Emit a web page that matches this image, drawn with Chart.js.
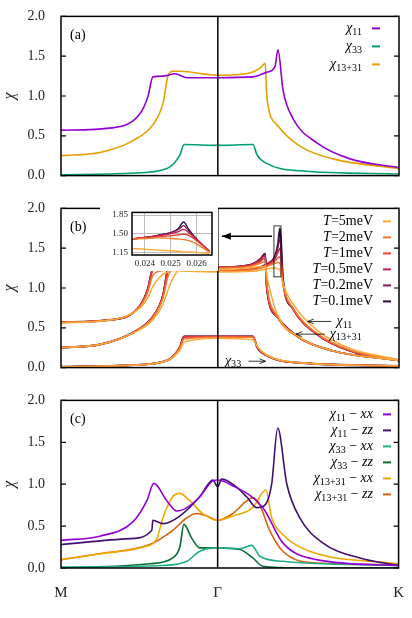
<!DOCTYPE html>
<html>
<head>
<meta charset="utf-8">
<script src="https://cdn.jsdelivr.net/npm/chart.js@4.4.1/dist/chart.umd.min.js"></script>
<style>
  body { margin: 0; background: #fff; }
  .panel { position: absolute; left: 0; width: 412px; }
  #inset { position: absolute; left: 100px; top: 203px; width: 118px; height: 68px; background: #fff; }
</style>
</head>
<body>
<div class="panel" style="top:0;height:192px"><canvas id="chartA"></canvas></div>
<div class="panel" style="top:192px;height:192px"><canvas id="chartB"></canvas></div>
<div class="panel" style="top:384px;height:234px"><canvas id="chartC"></canvas></div>
<div id="inset"><canvas id="chartInset"></canvas></div>
<script>
// path coordinate: M = 0, Gamma = 0.464, K = 1
const GAMMA = 0.464;
const pathTicks = [0, GAMMA, 1];
const pathLabels = ['M', 'Γ', 'K'];
const yTicks = [0, 0.5, 1.0, 1.5, 2.0];

// Panel (a)
const a11X = [0, 0.15, 0.234, 0.257, 0.272, 0.302, 0.337, 0.373, 0.464, 0.568, 0.609, 0.633, 0.642, 0.657, 0.686, 0.757, 0.855, 1.0];
const a11Y = [0.57, 0.60, 0.78, 0.99, 1.24, 1.25, 1.28, 1.23, 1.23, 1.24, 1.30, 1.37, 1.58, 1.07, 0.72, 0.41, 0.21, 0.10];
const a33X = [0, 0.204, 0.314, 0.352, 0.364, 0.464, 0.568, 0.580, 0.609, 0.707, 1.0];
const a33Y = [0.01, 0.03, 0.09, 0.26, 0.39, 0.38, 0.39, 0.26, 0.15, 0.06, 0.02];
const a13X = [0, 0.115, 0.213, 0.272, 0.302, 0.317, 0.331, 0.352, 0.464, 0.559, 0.589, 0.604, 0.609, 0.639, 0.707, 0.805, 1.0];
const a13Y = [0.25, 0.29, 0.44, 0.64, 0.91, 1.26, 1.31, 1.31, 1.26, 1.29, 1.35, 1.41, 0.99, 0.64, 0.37, 0.21, 0.09];

// Panel (b): temperatures
const temps = ['5', '2', '1', '0.5', '0.2', '0.1'];
const tempColors = ['#f9a93a', '#f27a2c', '#e8433a', '#c0204c', '#781a5c', '#2d0b3a'];
const b11X = [0, 0.15, 0.234, 0.257, 0.272, 0.302, 0.337, 0.373, 0.464, 0.568, 0.609, 0.633, 0.642, 0.648, 0.657, 0.686, 0.757, 0.855, 1.0];
const b11_T5 = [0.56, 0.60, 0.75, 0.88, 1.02, 1.17, 1.22, 1.21, 1.20, 1.21, 1.24, 1.25, 1.24, 1.22, 1.05, 0.80, 0.47, 0.24, 0.10];
const b11_T2 = [0.57, 0.60, 0.77, 0.95, 1.16, 1.22, 1.26, 1.22, 1.21, 1.23, 1.27, 1.31, 1.32, 1.31, 1.03, 0.75, 0.43, 0.22, 0.09];
const b11_T1 = [0.57, 0.60, 0.78, 0.98, 1.22, 1.24, 1.27, 1.23, 1.22, 1.24, 1.28, 1.34, 1.38, 1.39, 1.05, 0.74, 0.42, 0.21, 0.09];
const b11_T05 = [0.57, 0.60, 0.78, 0.99, 1.24, 1.25, 1.28, 1.23, 1.22, 1.24, 1.29, 1.37, 1.45, 1.50, 1.06, 0.74, 0.42, 0.21, 0.09];
const b11_T02 = [0.57, 0.60, 0.78, 0.99, 1.24, 1.25, 1.28, 1.23, 1.22, 1.24, 1.30, 1.39, 1.52, 1.62, 1.08, 0.74, 0.42, 0.21, 0.09];
const b11_T01 = [0.57, 0.60, 0.78, 0.99, 1.24, 1.25, 1.28, 1.23, 1.22, 1.24, 1.30, 1.40, 1.55, 1.75, 1.10, 0.74, 0.42, 0.21, 0.09];
const b13X = [0, 0.115, 0.213, 0.272, 0.302, 0.317, 0.331, 0.352, 0.464, 0.559, 0.589, 0.604, 0.609, 0.639, 0.707, 0.805, 1.0];
const b13_T5 = [0.25, 0.29, 0.43, 0.60, 0.80, 0.98, 1.12, 1.24, 1.23, 1.25, 1.27, 1.27, 1.15, 0.68, 0.38, 0.21, 0.09];
const b13_T2 = [0.25, 0.29, 0.44, 0.63, 0.88, 1.15, 1.25, 1.29, 1.25, 1.27, 1.31, 1.33, 1.05, 0.65, 0.37, 0.21, 0.09];
const b13_T1 = [0.25, 0.29, 0.44, 0.64, 0.90, 1.22, 1.29, 1.30, 1.26, 1.28, 1.33, 1.38, 1.02, 0.64, 0.37, 0.21, 0.09];
const b13_T05 = [0.25, 0.29, 0.44, 0.64, 0.91, 1.25, 1.31, 1.31, 1.26, 1.29, 1.35, 1.41, 1.00, 0.64, 0.37, 0.21, 0.09];
const b13_T02 = [0.25, 0.29, 0.44, 0.64, 0.91, 1.26, 1.31, 1.31, 1.26, 1.29, 1.35, 1.42, 1.00, 0.64, 0.37, 0.21, 0.09];
const b13_T01 = [0.25, 0.29, 0.44, 0.64, 0.91, 1.26, 1.32, 1.31, 1.26, 1.29, 1.36, 1.43, 1.00, 0.64, 0.37, 0.21, 0.09];
const b33X = [0, 0.204, 0.314, 0.352, 0.364, 0.464, 0.568, 0.580, 0.609, 0.707, 1.0];
const b33_T5 = [0.01, 0.03, 0.09, 0.22, 0.32, 0.37, 0.35, 0.27, 0.16, 0.06, 0.02];
const b33_T2 = [0.01, 0.03, 0.09, 0.25, 0.36, 0.38, 0.38, 0.27, 0.15, 0.06, 0.02];
const b33_T1 = [0.01, 0.03, 0.09, 0.26, 0.38, 0.39, 0.39, 0.26, 0.15, 0.06, 0.02];
const b33_T05 = [0.01, 0.03, 0.09, 0.26, 0.39, 0.39, 0.39, 0.26, 0.15, 0.06, 0.02];
const b33_T02 = [0.01, 0.03, 0.09, 0.26, 0.39, 0.39, 0.39, 0.26, 0.15, 0.06, 0.02];
const b33_T01 = [0.01, 0.03, 0.09, 0.26, 0.39, 0.39, 0.39, 0.26, 0.15, 0.06, 0.02];

// Inset of panel (b)
const insetX = [0.0235, 0.024, 0.0245, 0.025, 0.0253, 0.0255, 0.0257, 0.026, 0.0265];
const inset_T5 = [1.22, 1.21, 1.19, 1.18, 1.17, 1.16, 1.16, 1.15, 1.13];
const inset_T2 = [1.40, 1.41, 1.42, 1.41, 1.40, 1.39, 1.37, 1.31, 1.15];
const inset_T1 = [1.40, 1.42, 1.44, 1.46, 1.48, 1.49, 1.47, 1.37, 1.17];
const inset_T05 = [1.40, 1.43, 1.46, 1.50, 1.54, 1.58, 1.52, 1.39, 1.17];
const inset_T02 = [1.40, 1.43, 1.47, 1.52, 1.58, 1.65, 1.55, 1.40, 1.17];
const inset_T01 = [1.40, 1.43, 1.47, 1.52, 1.60, 1.72, 1.58, 1.40, 1.17];

// Panel (c)
const c11xxX = [0, 0.115, 0.213, 0.254, 0.275, 0.314, 0.343, 0.373, 0.411, 0.450, 0.464, 0.500, 0.598, 0.657, 0.757, 1.0];
const c11xxY = [0.33, 0.38, 0.55, 0.80, 1.01, 0.80, 0.68, 0.72, 0.85, 1.04, 1.05, 1.00, 0.72, 0.30, 0.10, 0.03];
const c11zzX = [0, 0.204, 0.269, 0.272, 0.302, 0.352, 0.411, 0.450, 0.464, 0.476, 0.509, 0.550, 0.580, 0.604, 0.624, 0.642, 0.669, 0.707, 0.775, 0.885, 1.0];
const c11zzY = [0.28, 0.35, 0.45, 0.57, 0.53, 0.62, 0.85, 1.05, 0.97, 1.06, 1.00, 0.85, 0.72, 0.75, 1.00, 1.67, 1.00, 0.60, 0.30, 0.12, 0.03];
const c33xxX = [0, 0.302, 0.373, 0.411, 0.464, 0.530, 0.565, 0.589, 0.657, 1.0];
const c33xxY = [0.01, 0.03, 0.08, 0.20, 0.24, 0.23, 0.27, 0.14, 0.08, 0.03];
const c33zzX = [0, 0.263, 0.331, 0.352, 0.364, 0.388, 0.411, 0.464, 0.530, 0.568, 0.598, 0.70, 1.0];
const c33zzY = [0.0, 0.05, 0.12, 0.25, 0.52, 0.35, 0.24, 0.24, 0.22, 0.12, 0.02, 0.0, 0.0];
const c13xxX = [0, 0.115, 0.243, 0.284, 0.302, 0.331, 0.352, 0.382, 0.420, 0.464, 0.509, 0.568, 0.607, 0.624, 0.657, 0.737, 1.0];
const c13xxY = [0.10, 0.17, 0.25, 0.35, 0.60, 0.85, 0.89, 0.80, 0.65, 0.57, 0.62, 0.72, 0.93, 0.60, 0.40, 0.20, 0.05];
const c13zzX = [0, 0.115, 0.263, 0.331, 0.373, 0.402, 0.432, 0.464, 0.509, 0.550, 0.568, 0.589, 0.618, 0.657, 0.757, 1.0];
const c13zzY = [0.10, 0.17, 0.28, 0.45, 0.60, 0.65, 0.62, 0.57, 0.65, 0.80, 0.84, 0.75, 0.45, 0.20, 0.06, 0.04];

const SERIF = '"Liberation Serif", "DejaVu Serif", serif';

function pts(xs, ys) {
    return xs.map((x, i) => ({ x: x, y: ys[i] }));
}

function line(xs, ys, color, width) {
    return {
        data: pts(xs, ys),
        borderColor: color,
        borderWidth: width || 1.6,
        pointRadius: 0,
        showLine: true,
        fill: false,
        cubicInterpolationMode: 'monotone'
    };
}

// draw text made of segments {t, it, sub}; align right at x, or left
function richText(ctx, segs, x, y, size, alignRight) {
    const parts = segs.map(s => {
        const fs = s.sub ? size * 0.72 : size;
        const font = (s.it ? 'italic ' : '') + fs + 'px ' + SERIF;
        ctx.font = font;
        return { s: s, font: font, w: ctx.measureText(s.t).width };
    });
    const total = parts.reduce((a, p) => a + p.w, 0);
    let cx = alignRight ? x - total : x;
    ctx.textBaseline = 'middle';
    ctx.textAlign = 'left';
    parts.forEach(p => {
        ctx.font = p.font;
        ctx.fillText(p.s.t, cx, p.s.sub ? y + size * 0.25 : y);
        cx += p.w;
    });
}

function chi(sub) {
    return [{ t: 'χ', it: true }, { t: sub, sub: true }];
}

const decor = {
    id: 'decor',
    afterDatasetsDraw(chart, args, opts) {
        const ctx = chart.ctx;
        const area = chart.chartArea;
        const xs = chart.scales.x, ys = chart.scales.y;
        ctx.save();
        ctx.strokeStyle = '#000';
        ctx.fillStyle = '#000';
        // Gamma line
        if (opts.gamma) {
            const gx = xs.getPixelForValue(GAMMA);
            ctx.lineWidth = 1.5;
            ctx.beginPath();
            ctx.moveTo(gx, area.top);
            ctx.lineTo(gx, area.bottom);
            ctx.stroke();
        }
        // inward ticks
        ctx.lineWidth = 1.2;
        (opts.yt || []).forEach(v => {
            const py = ys.getPixelForValue(v);
            ctx.beginPath();
            ctx.moveTo(area.left, py); ctx.lineTo(area.left + 5, py);
            ctx.moveTo(area.right, py); ctx.lineTo(area.right - 5, py);
            ctx.stroke();
        });
        // frame
        ctx.lineWidth = opts.frame || 1.5;
        ctx.strokeRect(area.left, area.top, area.right - area.left, area.bottom - area.top);
        if (opts.label) {
            ctx.font = '14px ' + SERIF;
            ctx.textBaseline = 'middle';
            ctx.fillText(opts.label, area.left + 9, area.top + 19);
        }
        (opts.legend || []).forEach((item, i) => {
            const y = area.top + opts.legTop + i * opts.legStep;
            ctx.fillStyle = '#000';
            richText(ctx, item.segs, opts.legTextX, y, 14, true);
            ctx.strokeStyle = item.color;
            ctx.lineWidth = 2;
            ctx.beginPath();
            ctx.moveTo(opts.legTextX + 10, y);
            ctx.lineTo(opts.legTextX + 18, y);
            ctx.stroke();
        });
        if (opts.extra) opts.extra(chart, ctx, xs, ys);
        ctx.restore();
    }
};
Chart.register(decor);

function panelOptions(decorOpts, showX, topPad, bottomH) {
    return {
        responsive: true,
        maintainAspectRatio: false,
        animation: false,
        layout: { autoPadding: false, padding: { left: 0, right: 13, top: topPad, bottom: 0 } },
        plugins: { legend: { display: false }, tooltip: { enabled: false }, decor: decorOpts },
        scales: {
            x: {
                type: 'linear', min: 0, max: 1,
                grid: { display: false },
                border: { display: false },
                afterBuildTicks: s => { s.ticks = pathTicks.map(v => ({ value: v })); },
                ticks: {
                    display: showX,
                    padding: 8,
                    color: '#222',
                    font: { family: SERIF, size: 15 },
                    callback: (v, i) => pathLabels[i]
                },
                afterFit: s => { s.height = bottomH; }
            },
            y: {
                min: 0, max: 2,
                grid: { display: false },
                border: { display: false },
                afterBuildTicks: s => { s.ticks = yTicks.map(v => ({ value: v })); },
                ticks: {
                    color: '#222',
                    padding: 8,
                    font: { family: SERIF, size: 14 },
                    callback: v => v.toFixed(1)
                },
                title: { display: true, text: 'χ', color: '#222', font: { family: SERIF, size: 16, style: 'italic' }, padding: 0 },
                afterFit: s => { s.width = 61; }
            }
        }
    };
}

// Panel (a)
new Chart(document.getElementById('chartA'), {
    type: 'scatter',
    data: { datasets: [
        line(a11X, a11Y, '#9400d3'),
        line(a33X, a33Y, '#009e73'),
        line(a13X, a13Y, '#e69f00')
    ] },
    options: panelOptions({
        gamma: true, yt: yTicks, label: '(a)',
        legTextX: 362, legTop: 12, legStep: 18,
        legend: [
            { segs: chi('11'), color: '#9400d3' },
            { segs: chi('33'), color: '#009e73' },
            { segs: chi('13+31'), color: '#e69f00' }
        ]
    }, false, 13, 7)
});

// Panel (b)
const b11Sets = [b11_T5, b11_T2, b11_T1, b11_T05, b11_T02, b11_T01];
const b13Sets = [b13_T5, b13_T2, b13_T1, b13_T05, b13_T02, b13_T01];
const b33Sets = [b33_T5, b33_T2, b33_T1, b33_T05, b33_T02, b33_T01];
const bData = [];
temps.forEach((t, i) => {
    const w = i === 5 ? 2 : 1.5;
    bData.push(line(b11X, b11Sets[i], tempColors[i], w));
    bData.push(line(b13X, b13Sets[i], tempColors[i], w));
    bData.push(line(b33X, b33Sets[i], tempColors[i], w));
});

function arrowLine(ctx, x1, y, x2, head, filled) {
    ctx.beginPath();
    ctx.moveTo(x1, y); ctx.lineTo(x2, y);
    ctx.stroke();
    const d = x2 < x1 ? 1 : -1;
    ctx.beginPath();
    ctx.moveTo(x2, y);
    ctx.lineTo(x2 + d * head, y - head * 0.4);
    if (filled) { ctx.lineTo(x2 + d * head, y + head * 0.4); ctx.closePath(); ctx.fill(); }
    else { ctx.moveTo(x2, y); ctx.lineTo(x2 + d * head, y + head * 0.4); ctx.stroke(); }
}

new Chart(document.getElementById('chartB'), {
    type: 'scatter',
    data: { datasets: bData },
    options: panelOptions({
        gamma: true, yt: yTicks, label: '(b)',
        legTextX: 373, legTop: 13, legStep: 16,
        legend: temps.map((t, i) => ({
            segs: [{ t: 'T', it: true }, { t: '=' + t + 'meV' }],
            color: tempColors[i]
        })),
        extra: (chart, ctx, xs, ys) => {
            // zoom rectangle
            const rx1 = xs.getPixelForValue(0.630), rx2 = xs.getPixelForValue(0.651);
            const ry1 = ys.getPixelForValue(1.78), ry2 = ys.getPixelForValue(1.14);
            ctx.strokeStyle = '#000';
            ctx.lineWidth = 0.8;
            ctx.strokeRect(rx1, ry1, rx2 - rx1, ry2 - ry1);
            // arrow toward inset
            ctx.lineWidth = 1.5;
            const ay = ys.getPixelForValue(1.65);
            arrowLine(ctx, rx1 - 2, ay, xs.getPixelForValue(0.476), 9, true);
            // curve labels
            ctx.lineWidth = 0.8;
            ctx.fillStyle = '#000';
            let y = ys.getPixelForValue(0.58);
            arrowLine(ctx, xs.getPixelForValue(0.80), y, xs.getPixelForValue(0.73), 6, false);
            richText(ctx, chi('11'), xs.getPixelForValue(0.815), y, 14, false);
            y = ys.getPixelForValue(0.42);
            arrowLine(ctx, xs.getPixelForValue(0.78), y, xs.getPixelForValue(0.695), 6, false);
            richText(ctx, chi('13+31'), xs.getPixelForValue(0.795), y, 14, false);
            y = ys.getPixelForValue(0.08);
            richText(ctx, chi('33'), xs.getPixelForValue(0.485), y, 14, false);
            arrowLine(ctx, xs.getPixelForValue(0.555), y, xs.getPixelForValue(0.605), 6, false);
        }
    }, false, 11, 7)
});

// Inset
const insetSets = [inset_T5, inset_T2, inset_T1, inset_T05, inset_T02, inset_T01];
new Chart(document.getElementById('chartInset'), {
    type: 'scatter',
    data: { datasets: insetSets.map((s, i) => line(insetX, s, tempColors[i], 1.3)) },
    options: {
        responsive: true,
        maintainAspectRatio: false,
        animation: false,
        layout: { autoPadding: false, padding: { left: 0, right: 6, top: 6, bottom: 0 } },
        plugins: { legend: { display: false }, tooltip: { enabled: false }, decor: { frame: 1.5 } },
        scales: {
            x: {
                type: 'linear', min: 0.0235, max: 0.0266,
                border: { display: false },
                grid: { color: '#bbb', borderDash: [1, 2], drawTicks: false },
                afterBuildTicks: s => { s.ticks = [0.024, 0.025, 0.026].map(v => ({ value: v })); },
                ticks: { padding: 3, color: '#222', font: { family: SERIF, size: 9 }, callback: v => v.toFixed(3) },
                afterFit: s => { s.height = 16; }
            },
            y: {
                min: 1.10, max: 1.90,
                border: { display: false },
                grid: { color: '#bbb', borderDash: [1, 2], drawTicks: false },
                afterBuildTicks: s => { s.ticks = [1.15, 1.50, 1.85].map(v => ({ value: v })); },
                ticks: { padding: 4, color: '#222', font: { family: SERIF, size: 9 }, callback: v => v.toFixed(2) },
                afterFit: s => { s.width = 32; }
            }
        }
    }
});

// Panel (c)
new Chart(document.getElementById('chartC'), {
    type: 'scatter',
    data: { datasets: [
        line(c11xxX, c11xxY, '#9400d3'),
        line(c11zzX, c11zzY, '#3f0f72'),
        line(c33xxX, c33xxY, '#1fae84'),
        line(c33zzX, c33zzY, '#0a6b35'),
        line(c13xxX, c13xxY, '#f0a800'),
        line(c13zzX, c13zzY, '#d9620f')
    ] },
    options: panelOptions({
        gamma: true, yt: yTicks, label: '(c)',
        legTextX: 373, legTop: 14, legStep: 16,
        legend: [
            { segs: chi('11').concat([{ t: ' − ' }, { t: 'xx', it: true }]), color: '#9400d3' },
            { segs: chi('11').concat([{ t: ' − ' }, { t: 'zz', it: true }]), color: '#3f0f72' },
            { segs: chi('33').concat([{ t: ' − ' }, { t: 'xx', it: true }]), color: '#1fae84' },
            { segs: chi('33').concat([{ t: ' − ' }, { t: 'zz', it: true }]), color: '#0a6b35' },
            { segs: chi('13+31').concat([{ t: ' − ' }, { t: 'xx', it: true }]), color: '#f0a800' },
            { segs: chi('13+31').concat([{ t: ' − ' }, { t: 'zz', it: true }]), color: '#d9620f' }
        ]
    }, true, 11, 50)
});
</script>
</body>
</html>
